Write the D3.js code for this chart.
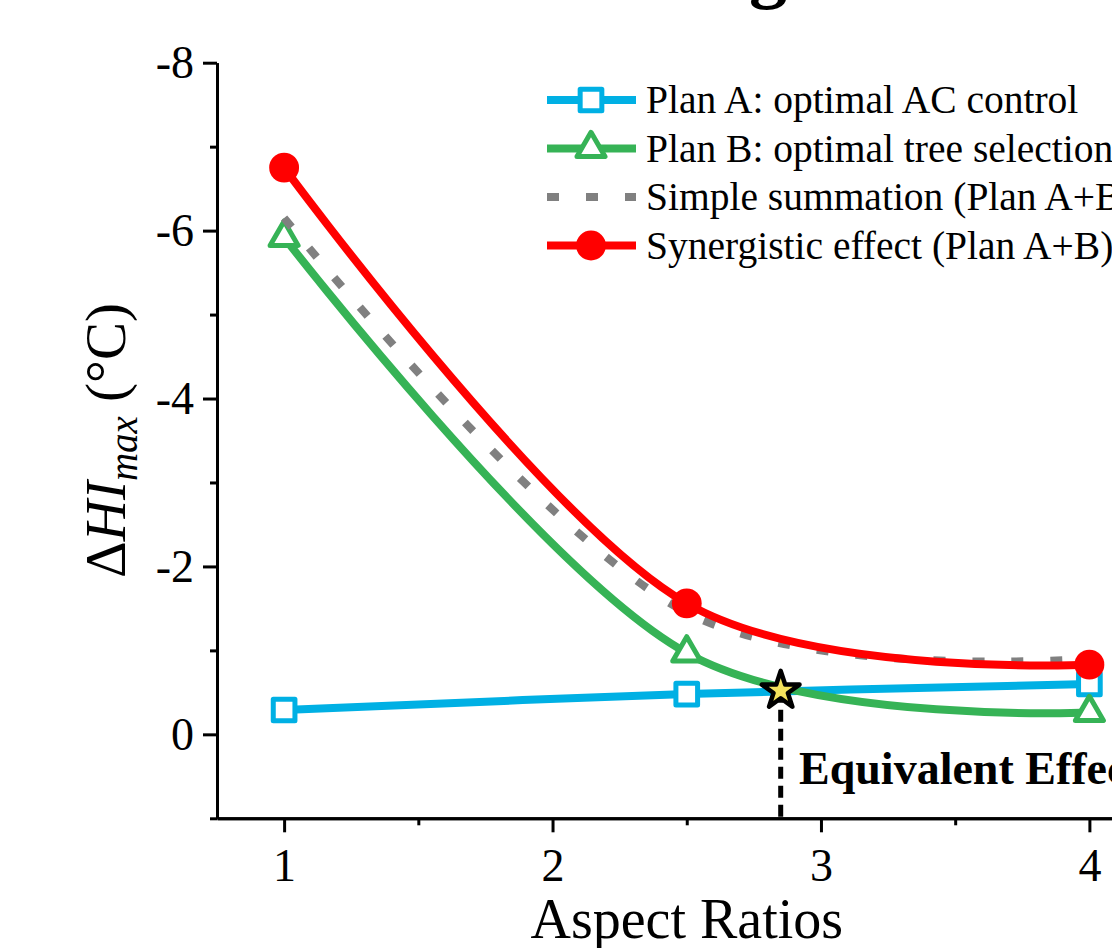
<!DOCTYPE html>
<html>
<head>
<meta charset="utf-8">
<script src="https://cdn.jsdelivr.net/npm/d3@7"></script>
<style>
  body { margin: 0; background: #fff; }
  text { font-family: "Liberation Serif", "Times New Roman", serif; }
</style>
</head>
<body>
<div id="chart"></div>
<script>
var width = 1112,
    height = 948;

// data
var aspect = [1, 2.5, 4];
var planA = [-0.29, -0.48, -0.6];
var planB = [-5.92, -0.97, -0.26];
var simpleSum = [-6.15, -1.45, -0.9];
var synergy = [-6.75, -1.56, -0.83];
var equivPoint = [2.85, -0.52];

var xMajor = [1, 2, 3, 4],
    xMinor = [1.5, 2.5, 3.5],
    yMajor = [-8, -6, -4, -2, 0],
    yMinor = [-7, -5, -3, -1, 1];

var legendLabels = [
  "Plan A: optimal AC control",
  "Plan B: optimal tree selection",
  "Simple summation (Plan A+B)",
  "Synergistic effect (Plan A+B)"
];

var x = d3.scaleLinear().domain([0.75, 4.25]).range([217, 1156.5]);
var y = d3.scaleLinear().domain([-8, 1]).range([62.7, 818.3]);

var series = [
  {label: legendLabels[0], values: planA, color: "#00b0e4", symbol: d3.symbolSquare, size: 470, fill: "#fff", sw: 5},
  {label: legendLabels[1], values: planB, color: "#36b356", symbol: d3.symbolTriangle, size: 340, fill: "#fff", sw: 5},
  {label: legendLabels[2], values: simpleSum, color: "#808080", dash: "12,27"},
  {label: legendLabels[3], values: synergy, color: "#ff0000", symbol: d3.symbolCircle, size: 700, fill: "#ff0000", sw: 0}
];

var svg = d3.select("#chart").append("svg")
    .attr("width", width)
    .attr("height", height);

svg.append("rect").attr("width", width).attr("height", height).attr("fill", "#fff");

// bits of the title cut off at the top
svg.append("text")
    .attr("x", 768).attr("y", -6)
    .attr("text-anchor", "middle")
    .style("font-size", "76px").style("font-weight", "bold")
    .text("g");

var line = d3.line()
    .x(function(d, i) { return x(aspect[i]); })
    .y(function(d) { return y(d); })
    .curve(d3.curveCatmullRom.alpha(0.25));

// curves + markers
series.forEach(function(s) {
  svg.append("path")
      .datum(s.values)
      .attr("fill", "none")
      .attr("stroke", s.color)
      .attr("stroke-width", 8)
      .attr("stroke-dasharray", s.dash || null)
      .attr("d", line);
  if (s.symbol) {
    svg.append("g").selectAll("path").data(s.values)
      .enter().append("path")
        .attr("transform", function(d, i) { return "translate(" + x(aspect[i]) + "," + y(d) + ")"; })
        .attr("d", d3.symbol().type(s.symbol).size(s.size))
        .attr("fill", s.fill)
        .attr("stroke", s.sw ? s.color : "none")
        .attr("stroke-width", s.sw)
        .attr("stroke-linejoin", "round");
  }
});

// equivalent effect marker
svg.append("line")
    .attr("x1", x(equivPoint[0])).attr("x2", x(equivPoint[0]))
    .attr("y1", y(equivPoint[1])).attr("y2", y(1))
    .attr("stroke", "#000").attr("stroke-width", 5)
    .attr("stroke-dasharray", "12,7");

svg.append("path")
    .attr("transform", "translate(" + x(equivPoint[0]) + "," + y(equivPoint[1]) + ")")
    .attr("d", d3.symbol().type(d3.symbolStar).size(440))
    .attr("fill", "#f4e25c")
    .attr("stroke", "#000")
    .attr("stroke-width", 4.5)
    .attr("stroke-linejoin", "round");

svg.append("text")
    .attr("x", 799).attr("y", 784)
    .style("font-size", "46px").style("font-weight", "bold")
    .text("Equivalent Effect");

// axes
var yAxis = svg.append("g")
    .attr("transform", "translate(" + x(0.75) + ",0)")
    .call(d3.axisLeft(y).tickValues(yMajor).tickSize(14).tickSizeOuter(0).tickPadding(9)
      .tickFormat(function(d) { return String(d); }));
svg.append("g")
    .attr("transform", "translate(" + x(0.75) + ",0)")
    .call(d3.axisLeft(y).tickValues(yMinor).tickSize(7).tickSizeOuter(0).tickFormat(""));

var xAxis = svg.append("g")
    .attr("transform", "translate(0," + y(1) + ")")
    .call(d3.axisBottom(x).tickValues(xMajor).tickSize(14).tickSizeOuter(0)
      .tickFormat(function(d) { return String(d); }));
svg.append("g")
    .attr("transform", "translate(0," + y(1) + ")")
    .call(d3.axisBottom(x).tickValues(xMinor).tickSize(7).tickSizeOuter(0).tickFormat(""));

svg.selectAll(".domain, .tick line").attr("stroke", "#000").attr("stroke-width", 3);
svg.selectAll(".tick text")
    .attr("fill", "#000")
    .style("font-size", "46px")
    .style("font-family", "'Liberation Serif', 'Times New Roman', serif");
xAxis.selectAll(".tick text").attr("y", 63).attr("dy", 0);

// axis titles
svg.append("text")
    .attr("x", (x(0.75) + x(4.25)) / 2).attr("y", 938)
    .attr("text-anchor", "middle")
    .style("font-size", "56px")
    .text("Aspect Ratios");

var yTitle = svg.append("text")
    .attr("transform", "translate(125," + (y(-8) + y(1)) / 2 + ") rotate(-90)")
    .attr("text-anchor", "middle")
    .style("font-size", "57px");
yTitle.append("tspan").text("\u0394");
yTitle.append("tspan").style("font-style", "italic").text("HI");
yTitle.append("tspan").style("font-style", "italic").style("font-size", "39px").attr("dy", 12).text("max");
yTitle.append("tspan").attr("dy", -12).text(" (\u00b0C)");

// legend
var legend = svg.append("g");
series.forEach(function(s, i) {
  var ly = 100 + i * 48.5;
  legend.append("line")
      .attr("x1", 547).attr("x2", 636)
      .attr("y1", ly).attr("y2", ly)
      .attr("stroke", s.color).attr("stroke-width", 8)
      .attr("stroke-dasharray", s.dash || null);
  if (s.symbol) {
    legend.append("path")
        .attr("transform", "translate(591," + ly + ")")
        .attr("d", d3.symbol().type(s.symbol).size(s.size))
        .attr("fill", s.fill)
        .attr("stroke", s.sw ? s.color : "none")
        .attr("stroke-width", s.sw)
        .attr("stroke-linejoin", "round");
  }
  legend.append("text")
      .attr("x", 646).attr("y", ly + 13)
      .style("font-size", "39.5px")
      .text(s.label);
});
</script>
</body>
</html>
